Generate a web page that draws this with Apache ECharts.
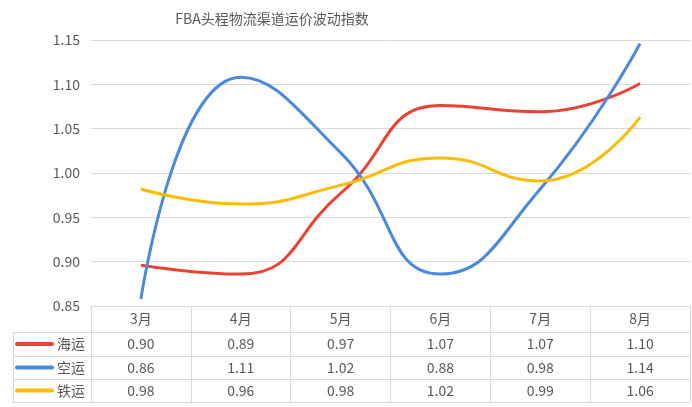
<!DOCTYPE html>
<html>
<head>
<meta charset="utf-8">
<script src="https://cdn.jsdelivr.net/npm/echarts@6/dist/echarts.min.js"></script>
<style>html,body{margin:0;padding:0;background:#fff}#c{width:692px;height:407px}</style>
</head>
<body>
<div id="c"></div>
<script>
var categories = ['3月', '4月', '5月', '6月', '7月', '8月'];
var seriesNames = ['海运', '空运', '铁运'];
var seaValues = [0.896, 0.886, 0.977, 1.076, 1.069, 1.101];
var airValues = [0.858, 1.108, 1.023, 0.886, 0.982, 1.146];
var railValues = [0.982, 0.965, 0.986, 1.017, 0.991, 1.063];
var seaTable = ['0.90', '0.89', '0.97', '1.07', '1.07', '1.10'];
var airTable = ['0.86', '1.11', '1.02', '0.88', '0.98', '1.14'];
var railTable = ['0.98', '0.96', '0.98', '1.02', '0.99', '1.06'];
var yTicks = [0.85, 0.90, 0.95, 1.00, 1.05, 1.10, 1.15];

var colors = ['#EA4335', '#4A89DC', '#FBBC05'];
var txtColor = '#595959';
var lineColor = '#D9D9D9';
var font = '"Microsoft YaHei","Noto Sans CJK SC",sans-serif';

var gridLeft = 91, gridRight = 2, gridTop = 40, gridBottom = 101;
var rowTops = [332, 356, 379, 402];
var tableLeft = 13;

var chart = echarts.init(document.getElementById('c'));
var allSeries = [seaValues, airValues, railValues];
chart.setOption({
  animation: false,
  title: {
    text: 'FBA头程物流渠道运价波动指数',
    left: 267, top: 7, textAlign: 'center',
    textStyle: {fontSize: 14, fontWeight: 'normal', color: txtColor, fontFamily: font}
  },
  grid: {left: gridLeft, right: gridRight, top: gridTop, bottom: gridBottom, containLabel: false},
  xAxis: {
    type: 'category', data: categories, boundaryGap: true,
    axisLine: {lineStyle: {color: lineColor, width: 1}},
    axisTick: {show: true, length: 96, lineStyle: {color: lineColor}},
    axisLabel: {color: txtColor, fontSize: 14, margin: 6, fontFamily: font}
  },
  yAxis: {
    type: 'value', min: yTicks[0], max: yTicks[yTicks.length - 1], interval: 0.05,
    axisLine: {show: false}, axisTick: {show: false},
    splitLine: {lineStyle: {color: lineColor}},
    axisLabel: {color: txtColor, fontSize: 14, margin: 11, fontFamily: font,
      formatter: function (v) { return v.toFixed(2); }}
  },
  series: seriesNames.map(function (n, i) {
    return {
      name: n, type: 'line', data: allSeries[i], smooth: 0.5,
      symbol: 'none', lineStyle: {width: 3, color: colors[i]}, itemStyle: {color: colors[i]}
    };
  })
});

var tables = [seaTable, airTable, railTable];
var graphics = [];
var rightX = 692 - gridRight;
rowTops.forEach(function (y) {
  graphics.push({type: 'line', shape: {x1: tableLeft, y1: y + 0.5, x2: rightX, y2: y + 0.5},
    style: {stroke: lineColor, lineWidth: 1}});
});
graphics.push({type: 'line', shape: {x1: tableLeft + 0.5, y1: rowTops[0], x2: tableLeft + 0.5, y2: rowTops[3]},
  style: {stroke: lineColor, lineWidth: 1}});
graphics.push({type: 'line', shape: {x1: gridLeft + 0.5, y1: rowTops[0], x2: gridLeft + 0.5, y2: rowTops[3]},
  style: {stroke: lineColor, lineWidth: 1}});
for (var r = 0; r < 3; r++) {
  var cy = (rowTops[r] + rowTops[r + 1]) / 2;
  graphics.push({type: 'line', shape: {x1: 17, y1: cy, x2: 52, y2: cy},
    style: {stroke: colors[r], lineWidth: 4, lineCap: 'round'}});
  graphics.push({type: 'text', x: 57, y: cy, style: {text: seriesNames[r], fill: txtColor,
    font: '14px ' + font, textVerticalAlign: 'middle', verticalAlign: 'middle'}});
  for (var c = 0; c < categories.length; c++) {
    var px = chart.convertToPixel({xAxisIndex: 0}, c);
    graphics.push({type: 'text', x: px, y: cy, style: {text: tables[r][c], fill: txtColor,
      font: '14px ' + font, align: 'center', verticalAlign: 'middle',
      textAlign: 'center', textVerticalAlign: 'middle'}});
  }
}
chart.setOption({graphic: graphics});
</script>
</body>
</html>
